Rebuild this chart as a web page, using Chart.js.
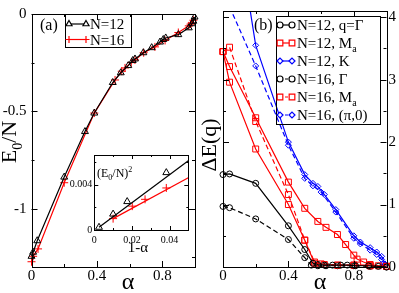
<!DOCTYPE html>
<html><head><meta charset="utf-8">
<script src="https://cdn.jsdelivr.net/npm/chart.js@4.4.0/dist/chart.umd.min.js"></script>
<style>
html,body{margin:0;padding:0;background:#fff;}
#wrap{position:relative;width:399px;height:293px;}
canvas{position:absolute;left:0;top:0;}
</style></head><body>
<div id="wrap">
<canvas id="chartA" width="399" height="293"></canvas>
<canvas id="chartB" width="399" height="293"></canvas>
<canvas id="chartInset" width="399" height="293"></canvas>
</div>
<script>
// ---- panel (a): ground state energy per site ----
const alphaA12 = [0, 0.01, 0.035, 0.2, 0.327, 0.384, 0.497, 0.546, 0.592, 0.619, 0.633, 0.684, 0.735, 0.786, 0.806, 0.821, 0.898, 0.962, 0.9825, 0.99, 0.9975];
const energyA12 = [-1.245, -1.224, -1.165, -0.838, -0.604, -0.509, -0.352, -0.302, -0.265, -0.239, -0.231, -0.199, -0.173, -0.144, -0.131, -0.123, -0.106, -0.071, -0.050, -0.037, -0.0155];
const alphaA16 = [0, 0.01, 0.04, 0.2, 0.384, 0.511, 0.552, 0.572, 0.61, 0.633, 0.686, 0.755, 0.817, 0.898, 0.962, 0.973, 0.98, 0.99];
const energyA16 = [-1.273, -1.245, -1.207, -0.867, -0.509, -0.339, -0.294, -0.277, -0.25, -0.236, -0.199, -0.169, -0.136, -0.095, -0.061, -0.052, -0.046, -0.032];
const xTicksA = [0, 0.4, 0.8];
const xMinorA = [0.2, 0.6, 1.0];
const yTicksA = [0, -0.5, -1];
const yMinorA = [-0.25, -0.75, -1.25];
const xLabelsA = ['0', '0.4', '0.8'];
const yLabelsA = ['0', '-0.5', '-1'];

// ---- inset: (E0/N)^2 vs 1-alpha ----
const oneMinusA12 = [0.0025, 0.01, 0.0175, 0.0383];
const esqA12 = [0.00024, 0.0014, 0.0025, 0.00505];
const fitX12 = [0.0025, 0.05];
const fitY12 = [0.00024, 0.0061];
const oneMinusA16 = [0.01, 0.0202, 0.027, 0.0383];
const esqA16 = [0.001, 0.0021, 0.0027, 0.0037];
const fitX16 = [0.01, 0.05];
const fitY16 = [0.001, 0.0046];
const xTicksIn = [0, 0.02, 0.04];
const xMinorIn = [0.01, 0.03];
const yTicksIn = [0, 0.004];
const yMinorIn = [0.002, 0.006];
const xLabelsIn = ['0', '0.02', '0.04'];
const yLabelsIn = ['0', '0.004'];

// ---- panel (b): excitation gaps ----
const alphaG12 = [0, 0.04, 0.2, 0.4, 0.5, 0.55, 0.58, 0.62, 0.67, 0.72, 0.76, 0.81, 0.89, 0.95, 1.0];
const gapG12 = [1.48, 1.49, 1.34, 0.66, 0.28, 0.06, 0.04, 0.03, 0.03, 0.03, 0.03, 0.02, 0.02, 0.01, 0.0];
const alphaM12 = [0, 0.04, 0.2, 0.4, 0.5, 0.58, 0.63, 0.7, 0.75, 0.8, 0.82, 0.86, 0.9, 0.95, 1.0];
const gapM12 = [3.45, 3.21, 2.39, 1.36, 0.94, 0.73, 0.635, 0.52, 0.36, 0.19, 0.126, 0.08, 0.04, 0.02, 0.01];
const alphaM12b = [0, 0.04, 0.2, 0.4, 0.5, 0.56, 0.62, 0.7, 0.8, 0.9, 1.0];
const gapM12b = [3.45, 2.96, 1.89, 1.0, 0.43, 0.06, 0.04, 0.03, 0.03, 0.02, 0.01];
const alphaK12 = [0, 0.04, 0.2, 0.4, 0.5, 0.55, 0.58, 0.62, 0.69, 0.8, 0.84, 0.9, 0.94, 0.97, 0.99];
const gapK12 = [6.7, 6.2, 3.55, 2.0, 1.48, 1.34, 1.29, 1.16, 0.92, 0.50, 0.40, 0.31, 0.24, 0.17, 0.05];
const alphaG16 = [0, 0.04, 0.2, 0.4, 0.5, 0.54, 0.58, 0.63, 0.7, 0.8, 0.9, 1.0];
const gapG16 = [0.97, 0.95, 0.77, 0.44, 0.15, 0.03, 0.02, 0.02, 0.02, 0.02, 0.01, 0.0];
const alphaM16 = [0, 0.04, 0.2, 0.4, 0.5, 0.56, 0.6, 0.7, 0.8, 0.9, 1.0];
const gapM16 = [3.45, 3.52, 2.33, 1.16, 0.43, 0.08, 0.05, 0.03, 0.03, 0.02, 0.01];
const alphaP16 = [0, 0.04, 0.2, 0.4, 0.5, 0.55, 0.6, 0.69, 0.8, 0.84, 0.9, 0.94, 0.97, 0.98];
const gapP16 = [4.4, 4.17, 3.22, 1.95, 1.42, 1.3, 1.2, 0.88, 0.46, 0.37, 0.27, 0.2, 0.12, 0.06];
const xTicksB = [0, 0.4, 0.8];
const xMinorB = [0.2, 0.6, 1.0];
const yTicksB = [0, 1, 2, 3, 4];
const yMinorB = [0.5, 1.5, 2.5, 3.5];
const xLabelsB = ['0', '0.4', '0.8'];
const yLabelsB = ['0', '1', '2', '3', '4'];

const SERIF = "'Liberation Serif', 'DejaVu Serif', serif";
const pts = (xs, ys) => xs.map((x, i) => ({x: x, y: ys[i]}));

// draws the box, inward ticks on all four sides, and optional white fill
const framePlugin = {
    id: 'frame',
    beforeDatasetsDraw(chart, args, opts) {
        if (!opts.fill) return;
        const a = chart.chartArea;
        chart.ctx.save();
        chart.ctx.fillStyle = '#fff';
        chart.ctx.fillRect(a.left, a.top, a.right - a.left, a.bottom - a.top);
        chart.ctx.restore();
    },
    afterDatasetsDraw(chart, args, opts) {
        const {ctx, chartArea: a, scales} = chart;
        const px = v => Math.round(v) + 0.5;
        ctx.save();
        ctx.strokeStyle = '#000';
        ctx.lineWidth = 1;
        ctx.strokeRect(px(a.left), px(a.top), Math.round(a.right) - Math.round(a.left), Math.round(a.bottom) - Math.round(a.top));
        ctx.beginPath();
        const xt = (vals, len) => vals.forEach(v => {
            const x = px(scales.x.getPixelForValue(v));
            ctx.moveTo(x, a.bottom); ctx.lineTo(x, a.bottom - len);
            ctx.moveTo(x, a.top); ctx.lineTo(x, a.top + len);
        });
        const yt = (vals, len) => vals.forEach(v => {
            const y = px(scales.y.getPixelForValue(v));
            ctx.moveTo(a.left, y); ctx.lineTo(a.left + len, y);
            ctx.moveTo(a.right, y); ctx.lineTo(a.right - len, y);
        });
        xt(opts.xMajor, opts.major); xt(opts.xMinor, opts.minor);
        yt(opts.yMajor, opts.major); yt(opts.yMinor, opts.minor);
        ctx.stroke();
        ctx.restore();
    }
};

// text with optional sub/superscripts: parts = [[text, 'n'|'sub'|'sup'], ...]
function drawRich(ctx, parts, x, y, size, align) {
    ctx.save();
    ctx.textBaseline = 'alphabetic';
    ctx.textAlign = 'left';
    const fontFor = k => (k === 'n' ? size : Math.round(size * 0.65)) + 'px ' + SERIF;
    let w = 0;
    parts.forEach(([t, k]) => { ctx.font = fontFor(k); w += ctx.measureText(t).width; });
    let cx = align === 'center' ? x - w / 2 : x;
    parts.forEach(([t, k]) => {
        ctx.font = fontFor(k);
        const dy = k === 'sub' ? size * 0.25 : k === 'sup' ? -size * 0.4 : 0;
        ctx.fillText(t, cx, y + dy);
        cx += ctx.measureText(t).width;
    });
    ctx.restore();
}

function drawMarker(ctx, style, color, x, y, r) {
    ctx.save();
    ctx.strokeStyle = color;
    ctx.fillStyle = '#fff';
    Chart.helpers.drawPoint(ctx, {pointStyle: style, radius: r, borderWidth: 1}, x, y);
    ctx.restore();
}

// legend and labels drawn by hand so that subscripts work
const legendPlugin = {
    id: 'handLegend',
    afterDraw(chart, args, opts) {
        const ctx = chart.ctx;
        ctx.save();
        if (opts.items) {
            ctx.lineWidth = 1;
            ctx.strokeStyle = '#000';
            ctx.strokeRect(opts.box[0] + 0.5, opts.box[1] + 0.5, opts.box[2], opts.box[3]);
            opts.items.forEach((it, i) => {
                const y = opts.y0 + i * opts.dy;
                ctx.strokeStyle = it.color;
                ctx.lineWidth = 1.2;
                ctx.setLineDash(it.dash || []);
                ctx.beginPath();
                ctx.moveTo(opts.x0, y); ctx.lineTo(opts.x1, y);
                ctx.stroke();
                ctx.setLineDash([]);
                [opts.x0, opts.x1].forEach(mx => drawMarker(ctx, it.style, it.color, mx, y, it.r));
                ctx.fillStyle = '#000';
                drawRich(ctx, it.text, opts.tx, y + 5, opts.size, 'left');
            });
        }
        (opts.texts || []).forEach(t => {
            ctx.fillStyle = '#000';
            if (t.rot) {
                ctx.save();
                ctx.translate(t.x, t.y);
                ctx.rotate(-Math.PI / 2);
                drawRich(ctx, t.parts, 0, 0, t.size, 'center');
                ctx.restore();
            } else {
                drawRich(ctx, t.parts, t.x, t.y, t.size, t.align || 'left');
            }
        });
        ctx.restore();
    }
};

function lineSet(xs, ys, color, style, r, dash) {
    return {
        data: pts(xs, ys),
        borderColor: color,
        borderWidth: 1.2,
        borderDash: dash || [],
        pointStyle: style,
        pointRadius: r,
        pointBorderColor: color,
        pointBackgroundColor: 'rgba(0,0,0,0)',
        pointBorderWidth: 1,
        fill: false,
        tension: 0,
        clip: {left: 6, right: 6, top: 0, bottom: 6}
    };
}

function axis(min, max, ticks, labels, font, padding, extra) {
    return Object.assign({
        type: 'linear', min: min, max: max,
        grid: {display: false, drawTicks: false},
        border: {display: false},
        afterBuildTicks: s => { s.ticks = ticks.map(v => ({value: v})); },
        ticks: {
            font: font,
            color: '#000',
            padding: padding,
            callback: (v) => labels[ticks.indexOf(v)] ?? '',
            autoSkip: false, maxRotation: 0
        }
    }, extra);
}

Chart.register(framePlugin, legendPlugin);

const black = '#000000', red = '#ff0000', blue = '#0000ff';
const DASH = [5, 3];
const mainFont = {family: SERIF, size: 15};
const insetFont = {family: SERIF, size: 10};

new Chart(document.getElementById('chartA'), {
    type: 'line',
    data: {datasets: [
        lineSet(alphaA12, energyA12, black, 'triangle', 4),
        lineSet(alphaA16, energyA16, red, 'cross', 4)
    ]},
    options: {
        responsive: false, animation: false,
        layout: {padding: {left: 0, top: 6, right: 204, bottom: 0}},
        plugins: {
            legend: {display: false}, tooltip: {enabled: false},
            frame: {xMajor: xTicksA, xMinor: xMinorA, yMajor: yTicksA, yMinor: yMinorA, major: 6, minor: 3},
            handLegend: {
                box: [65, 14, 66, 33], x0: 69, x1: 86, tx: 90, y0: 24, dy: 15.5, size: 15,
                items: [
                    {color: black, style: 'triangle', r: 3.5, text: [['N=12', 'n']]},
                    {color: red, style: 'cross', r: 3.5, text: [['N=16', 'n']]}
                ],
                texts: [
                    {parts: [['(a)', 'n']], x: 40, y: 30, size: 16},
                    {parts: [['E', 'n'], ['0', 'sub'], ['/N', 'n']], x: 16, y: 142, size: 22, rot: true},
                    {parts: [['\u03b1', 'n']], x: 128, y: 289, size: 24, align: 'center'}
                ]
            }
        },
        scales: {
            x: axis(0, 1, xTicksA, xLabelsA, mainFont, 0, {position: 'bottom', afterFit: s => { s.height = 26; }}),
            y: axis(-1.3, 0, yTicksA, yLabelsA, mainFont, 5, {position: 'left', afterFit: s => { s.width = 31.5; }})
        }
    }
});

new Chart(document.getElementById('chartB'), {
    type: 'line',
    data: {datasets: [
        lineSet(alphaG12, gapG12, black, 'circle', 3),
        lineSet(alphaM12, gapM12, red, 'rect', 4.2),
        lineSet(alphaM12b, gapM12b, red, 'rect', 4.2),
        lineSet(alphaK12, gapK12, blue, 'rectRot', 3),
        lineSet(alphaG16, gapG16, black, 'circle', 3, DASH),
        lineSet(alphaM16, gapM16, red, 'rect', 4.2, DASH),
        lineSet(alphaP16, gapP16, blue, 'rectRot', 3, DASH)
    ]},
    options: {
        responsive: false, animation: false,
        layout: {padding: {left: 223, top: 6, right: 0, bottom: 0}},
        plugins: {
            legend: {display: false}, tooltip: {enabled: false},
            frame: {xMajor: xTicksB, xMinor: xMinorB, yMajor: yTicksB, yMinor: yMinorB, major: 6, minor: 3},
            handLegend: {
                box: [276, 16, 104, 108], x0: 280, x1: 292, tx: 297, y0: 25, dy: 18, size: 15,
                items: [
                    {color: black, style: 'circle', r: 3, text: [['N=12, q=\u0393', 'n']]},
                    {color: red, style: 'rect', r: 4, text: [['N=12, M', 'n'], ['a', 'sub']]},
                    {color: blue, style: 'rectRot', r: 3, text: [['N=12, K', 'n']]},
                    {color: black, style: 'circle', r: 3, dash: [3, 2], text: [['N=16, \u0393', 'n']]},
                    {color: red, style: 'rect', r: 4, dash: [3, 2], text: [['N=16, M', 'n'], ['a', 'sub']]},
                    {color: blue, style: 'rectRot', r: 3, dash: [3, 2], text: [['N=16, (\u03c0,0)', 'n']]}
                ],
                texts: [
                    {parts: [['(b)', 'n']], x: 254, y: 30, size: 16},
                    {parts: [['\u0394E(q)', 'n']], x: 216, y: 145, size: 22, rot: true},
                    {parts: [['\u03b1', 'n']], x: 320, y: 289, size: 24, align: 'center'}
                ]
            }
        },
        scales: {
            x: axis(0, 1, xTicksB, xLabelsB, mainFont, 0, {position: 'bottom', afterFit: s => { s.height = 26; }}),
            y: axis(0, 4.1, yTicksB, yLabelsB, mainFont, 2, {position: 'right', afterFit: s => { s.width = 12.5; }})
        }
    }
});

new Chart(document.getElementById('chartInset'), {
    type: 'line',
    data: {datasets: [
        lineSet(fitX12, fitY12, black, 'triangle', 0),
        lineSet(fitX16, fitY16, red, 'cross', 0),
        Object.assign(lineSet(oneMinusA12, esqA12, black, 'triangle', 4), {showLine: false}),
        Object.assign(lineSet(oneMinusA16, esqA16, red, 'cross', 4), {showLine: false})
    ]},
    options: {
        responsive: false, animation: false,
        layout: {padding: {left: 0, top: 155, right: 210.7, bottom: 0}},
        plugins: {
            legend: {display: false}, tooltip: {enabled: false},
            frame: {fill: true, xMajor: xTicksIn, xMinor: xMinorIn, yMajor: yTicksIn, yMinor: yMinorIn, major: 4, minor: 2},
            handLegend: {
                texts: [
                    {parts: [['(E', 'n'], ['0', 'sub'], ['/N)', 'n'], ['2', 'sup']], x: 97, y: 177, size: 12},
                    {parts: [['1-\u03b1', 'n']], x: 138, y: 252, size: 15, align: 'center'}
                ]
            }
        },
        scales: {
            x: axis(0, 0.05, xTicksIn, xLabelsIn, insetFont, 4, {position: 'bottom', afterFit: s => { s.height = 63; }}),
            y: axis(0, 0.0066, yTicksIn, yLabelsIn, insetFont, 2, {position: 'left', afterFit: s => { s.width = 94.3; }})
        }
    }
});
</script>
</body></html>
